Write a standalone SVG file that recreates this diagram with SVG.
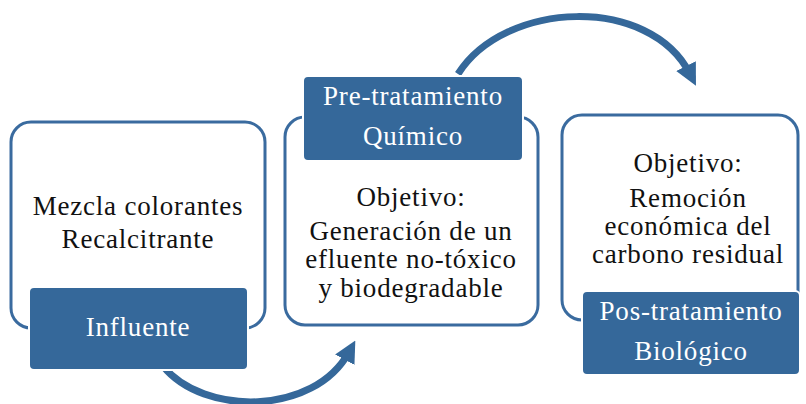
<svg xmlns="http://www.w3.org/2000/svg" width="806" height="404" viewBox="0 0 806 404">
<defs>
<style>
.box{fill:#fff;stroke:#3a6b9f;stroke-width:3}
.hdr{fill:#35689a;stroke:#fff;stroke-width:2}
.t{font-family:"Liberation Serif",serif;font-size:27px;letter-spacing:0.8px;fill:#111;text-anchor:middle}
.w{font-family:"Liberation Serif",serif;font-size:27px;letter-spacing:0.8px;fill:#fff;text-anchor:middle}
.arc{fill:none;stroke:#35689a;stroke-width:7}
</style>
<marker id="ah" viewBox="0 0 10 10" refX="4" refY="5" markerWidth="22" markerHeight="22" markerUnits="userSpaceOnUse" orient="auto">
<path d="M0,0 L10,5 L0,10 z" fill="#35689a"/>
</marker>
</defs>
<g id="connectors">
<path class="arc" d="M163,366 C203,416 314,416 349,352" marker-end="url(#ah)"/>
<path class="arc" d="M458,74 C505,0 650,-5 690,74" marker-end="url(#ah)"/>
</g>
<g id="influente">
<rect class="box" x="11" y="122" width="254" height="206" rx="20"/>
<text class="t" x="138" y="215">Mezcla colorantes</text>
<text class="t" x="138" y="248">Recalcitrante</text>
<rect class="hdr" x="29" y="287" width="219" height="83" rx="5"/>
<text class="w" x="138" y="336">Influente</text>
</g>
<g id="pretratamiento">
<rect class="box" x="285" y="117" width="253" height="208" rx="20"/>
<rect class="hdr" x="303" y="76" width="220" height="85" rx="5"/>
<text class="w" x="413" y="105">Pre-tratamiento</text>
<text class="w" x="413" y="145">Químico</text>
<text class="t" x="411" y="206">Objetivo:</text>
<text class="t" x="411" y="240">Generación de un</text>
<text class="t" x="411" y="268">efluente no-tóxico</text>
<text class="t" x="411" y="297">y biodegradable</text>
</g>
<g id="postratamiento">
<rect class="box" x="562" y="115" width="236" height="205" rx="20"/>
<text class="t" x="688" y="172">Objetivo:</text>
<text class="t" x="688" y="207">Remoción</text>
<text class="t" x="688" y="235">económica del</text>
<text class="t" x="688" y="263">carbono residual</text>
<rect class="hdr" x="582" y="291" width="218" height="84" rx="5"/>
<text class="w" x="691" y="320">Pos-tratamiento</text>
<text class="w" x="691" y="360">Biológico</text>
</g>
</svg>
